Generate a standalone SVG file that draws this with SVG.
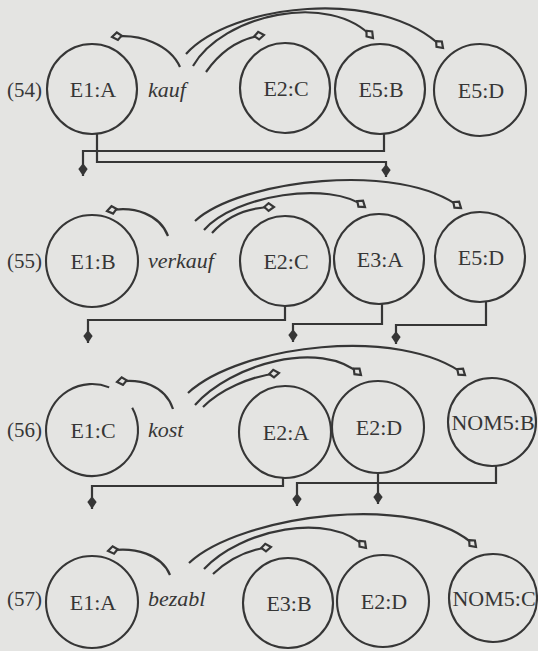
<svg xmlns="http://www.w3.org/2000/svg" width="538" height="651" viewBox="0 0 538 651">
<style>
.bg{fill:#e4e4e2}
.node circle,.node path{fill:none;stroke:#363636;stroke-width:2.1}
.lbl{font-family:"Liberation Serif",serif;font-size:22px;fill:#363636;text-anchor:middle}
.num{font-family:"Liberation Serif",serif;font-size:21px;fill:#363636}
.pred{font-family:"Liberation Serif",serif;font-style:italic;font-size:22px;fill:#363636}
.arc{fill:none;stroke:#363636;stroke-width:2.2;marker-end:url(#open)}
.link{fill:none;stroke:#363636;stroke-width:2.2;marker-end:url(#down)}
</style>
<defs>
<marker id="open" viewBox="0 0 12 10" refX="10" refY="5" markerWidth="13" markerHeight="11" markerUnits="userSpaceOnUse" orient="auto">
<path d="M1,5 L5,1.5 L10,5 L5,8.5 Z" fill="#e4e4e2" stroke="#363636" stroke-width="2"/>
</marker>
<marker id="down" viewBox="0 0 12 10" refX="11" refY="5" markerWidth="14" markerHeight="12" markerUnits="userSpaceOnUse" orient="auto">
<path d="M0,5 L5,1 L11,5 L5,9 Z" fill="#363636"/>
</marker>
</defs>
<rect class="bg" x="0" y="0" width="538" height="651"/>

<!-- Row 54 -->
<text class="num" x="7" y="97">(54)</text>
<g id="r54_E1A" class="node"><circle cx="92" cy="89" r="45"/><text class="lbl" x="93" y="97">E1:A</text></g>
<g id="r54_kauf" class="node"><text class="pred" x="148" y="97">kauf</text></g>
<g id="r54_E2C" class="node"><circle cx="285" cy="88" r="45"/><text class="lbl" x="286" y="96">E2:C</text></g>
<g id="r54_E5B" class="node"><circle cx="380" cy="89" r="45"/><text class="lbl" x="381" y="97">E5:B</text></g>
<g id="r54_E5D" class="node"><circle cx="480" cy="90" r="46"/><text class="lbl" x="481" y="98">E5:D</text></g>

<!-- Row 55 -->
<text class="num" x="7" y="268">(55)</text>
<g id="r55_E1B" class="node"><circle cx="92" cy="261" r="46"/><text class="lbl" x="93" y="269">E1:B</text></g>
<g id="r55_verkauf" class="node"><text class="pred" x="148" y="268">verkauf</text></g>
<g id="r55_E2C" class="node"><circle cx="285" cy="261" r="45"/><text class="lbl" x="286" y="269">E2:C</text></g>
<g id="r55_E3A" class="node"><circle cx="379" cy="259" r="45"/><text class="lbl" x="380" y="267">E3:A</text></g>
<g id="r55_E5D" class="node"><circle cx="480" cy="257" r="45"/><text class="lbl" x="481" y="265">E5:D</text></g>

<!-- Row 56 -->
<text class="num" x="7" y="437">(56)</text>
<g id="r56_E1C" class="node"><path d="M132.2,407.7 A46,46 0 1 1 109.2,387.4"/><text class="lbl" x="93" y="438">E1:C</text></g>
<g id="r56_kost" class="node"><text class="pred" x="148" y="437">kost</text></g>
<g id="r56_E2A" class="node"><circle cx="285" cy="432" r="46"/><text class="lbl" x="286" y="440">E2:A</text></g>
<g id="r56_E2D" class="node"><circle cx="378" cy="427" r="46"/><text class="lbl" x="379" y="435">E2:D</text></g>
<g id="r56_NOM5B" class="node"><circle cx="492" cy="422" r="44"/><text class="lbl" x="493" y="430">NOM5:B</text></g>

<!-- Row 57 -->
<text class="num" x="7" y="606">(57)</text>
<g id="r57_E1A" class="node"><circle cx="92" cy="602" r="46"/><text class="lbl" x="93" y="610">E1:A</text></g>
<g id="r57_bezabl" class="node"><text class="pred" x="148" y="606">bezabl</text></g>
<g id="r57_E3B" class="node"><circle cx="288" cy="603" r="45"/><text class="lbl" x="289" y="611">E3:B</text></g>
<g id="r57_E2D" class="node"><circle cx="383" cy="601" r="46"/><text class="lbl" x="384" y="609">E2:D</text></g>
<g id="r57_NOM5C" class="node"><circle cx="493" cy="598" r="44"/><text class="lbl" x="494" y="606">NOM5:C</text></g>

<g id="connectors">
<!-- row 54 arcs -->
<path class="arc" d="M180,67 C170,45 140,33 112,37"/>
<path class="arc" d="M206,72 C220,52 240,38 264,35"/>
<path class="arc" d="M193,66 C222,15 330,-10 373,38"/>
<path class="arc" d="M186,54 C230,5 380,-15 443,48"/>
<!-- row 54 to 55 -->
<path class="link" d="M384,134 V151 H83 V176"/>
<path class="link" d="M97,134 V162 H386 V177"/>
<!-- row 55 arcs -->
<path class="arc" d="M168,236 C160,215 135,205 107,211"/>
<path class="arc" d="M212,233 C228,215 250,207 274,207"/>
<path class="arc" d="M204,230 C235,195 330,180 365,207"/>
<path class="arc" d="M195,221 C240,180 400,160 461,208"/>
<!-- row 55 to 56 -->
<path class="link" d="M285,306 V320 H88 V343"/>
<path class="link" d="M382,304 V324 H293 V342"/>
<path class="link" d="M486,302 V325 H396 V344"/>
<!-- row 56 arcs -->
<path class="arc" d="M173,409 C165,385 140,378 117,382"/>
<path class="arc" d="M203,407 C220,390 250,376 279,373"/>
<path class="arc" d="M195,405 C230,365 320,338 361,375"/>
<path class="arc" d="M188,393 C240,345 400,325 465,375"/>
<!-- row 56 to 57 -->
<path class="link" d="M283,478 V486 H92 V509"/>
<path class="link" d="M378,473 V504"/>
<path class="link" d="M496,466 V483 H297 V506"/>
<!-- row 57 arcs -->
<path class="arc" d="M170,575 C162,555 135,546 108,551"/>
<path class="arc" d="M213,574 C230,558 250,549 271,547"/>
<path class="arc" d="M204,569 C240,530 330,510 366,548"/>
<path class="arc" d="M189,563 C240,515 420,490 476,547"/>
</g>
</svg>
